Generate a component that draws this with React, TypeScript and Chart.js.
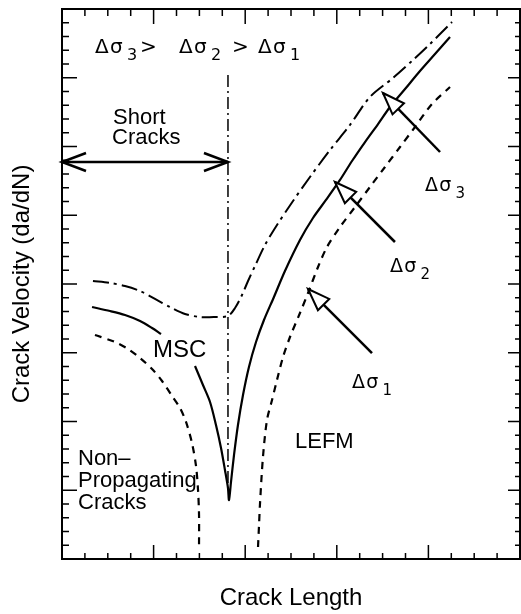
import React, { useEffect, useRef } from "react";
import { Chart, registerables } from "chart.js";

Chart.register(...registerables);

// ---- text ----
const xAxisTitle = "Crack Length";
const yAxisTitle = "Crack Velocity (da/dN)";
const shortCracksLines = ["Short", "Cracks"];
const nonPropLines = ["Non–", "Propagating", "Cracks"];
const mscLabel = "MSC";
const lefmLabel = "LEFM";

// ---- axis ranges / tick steps ----
const xMin = 0;
const xMax = 5;
const xMinorStep = 0.25;
const xMajorEvery = 4;
const yMin = 0;
const yMax = 8;
const yMinorStep = 0.2;
const yMajorEvery = 5;

// ---- Δσ3 (dash-dot) ----
const sigma3X = [0.338, 0.524, 0.688, 0.852, 1.015, 1.179, 1.343, 1.507, 1.67, 1.812, 1.889, 1.965, 2.031, 2.107, 2.216, 2.347, 2.522, 2.707, 2.926, 3.144, 3.362, 3.613, 3.832, 4.017, 4.258];
const sigma3Y = [4.044, 4.015, 3.971, 3.898, 3.782, 3.665, 3.564, 3.52, 3.52, 3.535, 3.651, 3.84, 4.044, 4.262, 4.567, 4.858, 5.207, 5.556, 5.949, 6.313, 6.72, 6.996, 7.258, 7.491, 7.811];

// ---- Δσ2 (solid) ----
const sigma2X = [0.328, 0.524, 0.688, 0.852, 0.983, 1.081, 1.27, 1.452, 1.539, 1.616, 1.681, 1.736, 1.779, 1.812, 1.823, 1.845, 1.878, 1.921, 1.976, 2.041, 2.118, 2.205, 2.314, 2.434, 2.598, 2.74, 2.882, 3.035, 3.166, 3.308, 3.45, 3.581, 3.745, 3.908, 4.072, 4.236];
const sigma2Y = [3.665, 3.607, 3.549, 3.462, 3.36, 3.273, null, 2.807, 2.531, 2.284, 1.949, 1.615, 1.295, 1.033, 0.858, 1.12, 1.513, 1.949, 2.385, 2.793, 3.156, 3.476, 3.811, 4.189, 4.64, 4.96, 5.222, 5.513, 5.789, 6.065, 6.327, 6.575, 6.836, 7.098, 7.345, 7.593];

// ---- Δσ1 (dashed) ----
const sigma1X = [0.36, 0.579, 0.721, 0.852, 0.983, 1.092, 1.201, 1.288, 1.354, 1.419, 1.463, 1.485, 1.496, 1.496, 1.8, 2.14, 2.151, 2.162, 2.194, 2.238, 2.293, 2.347, 2.413, 2.489, 2.598, 2.686, 2.795, 2.893, 3.035, 3.199, 3.362, 3.526, 3.69, 3.854, 4.039, 4.236];
const sigma1Y = [3.258, 3.156, 3.055, 2.924, 2.764, 2.589, 2.371, 2.196, 1.993, 1.687, 1.353, 1.004, 0.64, 0.204, null, 0.175, 0.495, 0.815, 1.484, 2.022, 2.313, 2.604, 2.938, 3.229, 3.578, 3.869, 4.247, 4.538, 4.829, 5.12, 5.411, 5.702, 5.993, 6.284, 6.618, 6.865];

// ---- short-crack limit (vertical dash-dot) ----
const limitX = [1.812, 1.812];
const limitY = [7.04, 1.0];

// ---- short-cracks double arrow ----
const shortArrowX = [0, 1.812];
const shortArrowY = [5.775, 5.775];

// ---- label arrows (tail -> tip) ----
const arrow3X = [4.127, 3.504];
const arrow3Y = [5.92, 6.778];
const arrow2X = [3.635, 2.98];
const arrow2Y = [4.611, 5.484];
const arrow1X = [3.384, 2.686];
const arrow1Y = [2.996, 3.927];

const zip = (xs: number[], ys: (number | null)[]) => xs.map((x, i) => ({ x, y: ys[i] }));

const FONT = '"Liberation Sans", Arial, Helvetica, sans-serif';
const GREEK = '"DejaVu Sans", "Liberation Sans", sans-serif';

function drawSigma(ctx: CanvasRenderingContext2D, x: number, y: number, sub: string, size: number) {
  ctx.font = `${size}px ${GREEK}`;
  ctx.fillText("Δ", x, y);
  ctx.fillText("σ", x + size * 0.75, y);
  ctx.font = `${Math.round(size * 0.8)}px ${GREEK}`;
  ctx.fillText(sub, x + size * 1.6, y + size * 0.35);
}

const decorPlugin = {
  id: "decor",
  afterDatasetsDraw(chart: any) {
    const ctx: CanvasRenderingContext2D = chart.ctx;
    const { left, right, top, bottom } = chart.chartArea;
    const xs = chart.scales.x;
    const ys = chart.scales.y;
    ctx.save();
    ctx.setLineDash([]);
    ctx.strokeStyle = "#000";
    ctx.fillStyle = "#000";

    // arrowheads
    chart.data.datasets.forEach((ds: any, i: number) => {
      if (!ds.arrow) return;
      const pts = chart.getDatasetMeta(i).data;
      if (pts.length < 2) return;
      const p0 = pts[0];
      const p1 = pts[pts.length - 1];
      const dx = p1.x - p0.x;
      const dy = p1.y - p0.y;
      const len = Math.hypot(dx, dy);
      const ux = dx / len;
      const uy = dy / len;
      const nx = -uy;
      const ny = ux;
      if (ds.arrow === "open-both") {
        const L = 24;
        const W = 9;
        ctx.lineWidth = 2.5;
        [[p1, 1], [p0, -1]].forEach(([p, s]: any) => {
          const bx = p.x - s * L * ux;
          const by = p.y - s * L * uy;
          ctx.beginPath();
          ctx.moveTo(bx + W * nx, by + W * ny);
          ctx.lineTo(p.x, p.y);
          ctx.lineTo(bx - W * nx, by - W * ny);
          ctx.stroke();
        });
      } else {
        const L = 22;
        const W = 8;
        const bx = p1.x - L * ux;
        const by = p1.y - L * uy;
        ctx.lineWidth = 2;
        ctx.beginPath();
        ctx.moveTo(p1.x, p1.y);
        ctx.lineTo(bx + W * nx, by + W * ny);
        ctx.lineTo(bx - W * nx, by - W * ny);
        ctx.closePath();
        ctx.fillStyle = "#fff";
        ctx.fill();
        ctx.stroke();
        ctx.fillStyle = "#000";
      }
    });

    // frame
    ctx.lineWidth = 2;
    ctx.strokeRect(left, top, right - left, bottom - top);

    // ticks (inward)
    ctx.lineWidth = 1.5;
    const nX = Math.round((xMax - xMin) / xMinorStep);
    for (let i = 0; i <= nX; i++) {
      const v = xMin + i * xMinorStep;
      const px = xs.getPixelForValue(v);
      const major = i % xMajorEvery === 0;
      ctx.beginPath();
      ctx.moveTo(px, bottom);
      ctx.lineTo(px, bottom - (major ? 14 : 6));
      ctx.moveTo(px, top);
      ctx.lineTo(px, top + (major ? 15 : 7));
      ctx.stroke();
    }
    const nY = Math.round((yMax - yMin) / yMinorStep);
    for (let i = 0; i <= nY; i++) {
      const v = yMin + i * yMinorStep;
      const py = ys.getPixelForValue(v);
      const major = i % yMajorEvery === 0;
      ctx.beginPath();
      ctx.moveTo(left, py);
      ctx.lineTo(left + (major ? 15 : 7), py);
      ctx.moveTo(right, py);
      ctx.lineTo(right - (major ? 12 : 5), py);
      ctx.stroke();
    }

    // texts
    ctx.textBaseline = "alphabetic";
    ctx.textAlign = "left";
    ctx.fillStyle = "#000";

    // header inequality
    drawSigma(ctx, 95, 53, "3", 20);
    ctx.font = `20px ${GREEK}`;
    ctx.fillText(">", 140, 53);
    drawSigma(ctx, 179, 53, "2", 20);
    ctx.font = `20px ${GREEK}`;
    ctx.fillText(">", 232, 53);
    drawSigma(ctx, 258, 53, "1", 20);

    // curve labels
    drawSigma(ctx, 425, 191, "3", 19);
    drawSigma(ctx, 390, 272, "2", 19);
    drawSigma(ctx, 352, 388, "1", 19);

    ctx.font = `22px ${FONT}`;
    ctx.fillText(shortCracksLines[0], 113, 124);
    ctx.fillText(shortCracksLines[1], 112, 144);

    ctx.font = `24px ${FONT}`;
    ctx.fillText(mscLabel, 153, 357);

    ctx.font = `22px ${FONT}`;
    ctx.fillText(lefmLabel, 295, 448);

    ctx.font = `22px ${FONT}`;
    ctx.fillText(nonPropLines[0], 78, 465);
    ctx.fillText(nonPropLines[1], 78, 487);
    ctx.fillText(nonPropLines[2], 78, 509);

    ctx.restore();
  },
};

export default function App() {
  const canvasRef = useRef<HTMLCanvasElement | null>(null);

  useEffect(() => {
    if (!canvasRef.current) return;
    const base = { pointRadius: 0, pointHoverRadius: 0, showLine: true, borderColor: "#000", fill: false, spanGaps: false };
    const chart = new Chart(canvasRef.current, {
      type: "scatter",
      data: {
        datasets: [
          { ...base, label: "Δσ3", data: zip(sigma3X, sigma3Y), borderWidth: 2, borderDash: [16, 5, 3, 5], tension: 0.3 },
          { ...base, label: "Δσ2", data: zip(sigma2X, sigma2Y), borderWidth: 2.2, tension: 0.3 },
          { ...base, label: "Δσ1", data: zip(sigma1X, sigma1Y), borderWidth: 2.2, borderDash: [7, 6], tension: 0.3 },
          { ...base, label: "limit", data: zip(limitX, limitY), borderWidth: 1.5, borderDash: [12, 4, 2, 4] },
          { ...base, label: "short", data: zip(shortArrowX, shortArrowY), borderWidth: 2.5, arrow: "open-both" } as any,
          { ...base, label: "a3", data: zip(arrow3X, arrow3Y), borderWidth: 2.5, arrow: "hollow" } as any,
          { ...base, label: "a2", data: zip(arrow2X, arrow2Y), borderWidth: 2.5, arrow: "hollow" } as any,
          { ...base, label: "a1", data: zip(arrow1X, arrow1Y), borderWidth: 2.5, arrow: "hollow" } as any,
        ],
      },
      options: {
        animation: false,
        responsive: true,
        maintainAspectRatio: false,
        layout: { padding: { top: 9, right: 1, left: 0, bottom: 0 } },
        plugins: { legend: { display: false }, tooltip: { enabled: false } },
        scales: {
          x: {
            type: "linear",
            min: xMin,
            max: xMax,
            ticks: { display: false },
            grid: { display: false, drawTicks: false },
            border: { display: false },
            title: { display: true, text: xAxisTitle, color: "#000", font: { size: 24, family: FONT }, padding: { top: 24.6, bottom: 1.6 } },
          },
          y: {
            type: "linear",
            min: yMin,
            max: yMax,
            ticks: { display: false },
            grid: { display: false, drawTicks: false },
            border: { display: false },
            title: { display: true, text: yAxisTitle, color: "#000", font: { size: 24, family: FONT }, padding: { top: 7.6, bottom: 25.6 } },
          },
        },
      },
      plugins: [decorPlugin],
    });
    return () => chart.destroy();
  }, []);

  return (
    <div style={{ position: "fixed", left: 0, top: 0, width: 521, height: 614, background: "#fff" }}>
      <canvas ref={canvasRef} />
    </div>
  );
}
